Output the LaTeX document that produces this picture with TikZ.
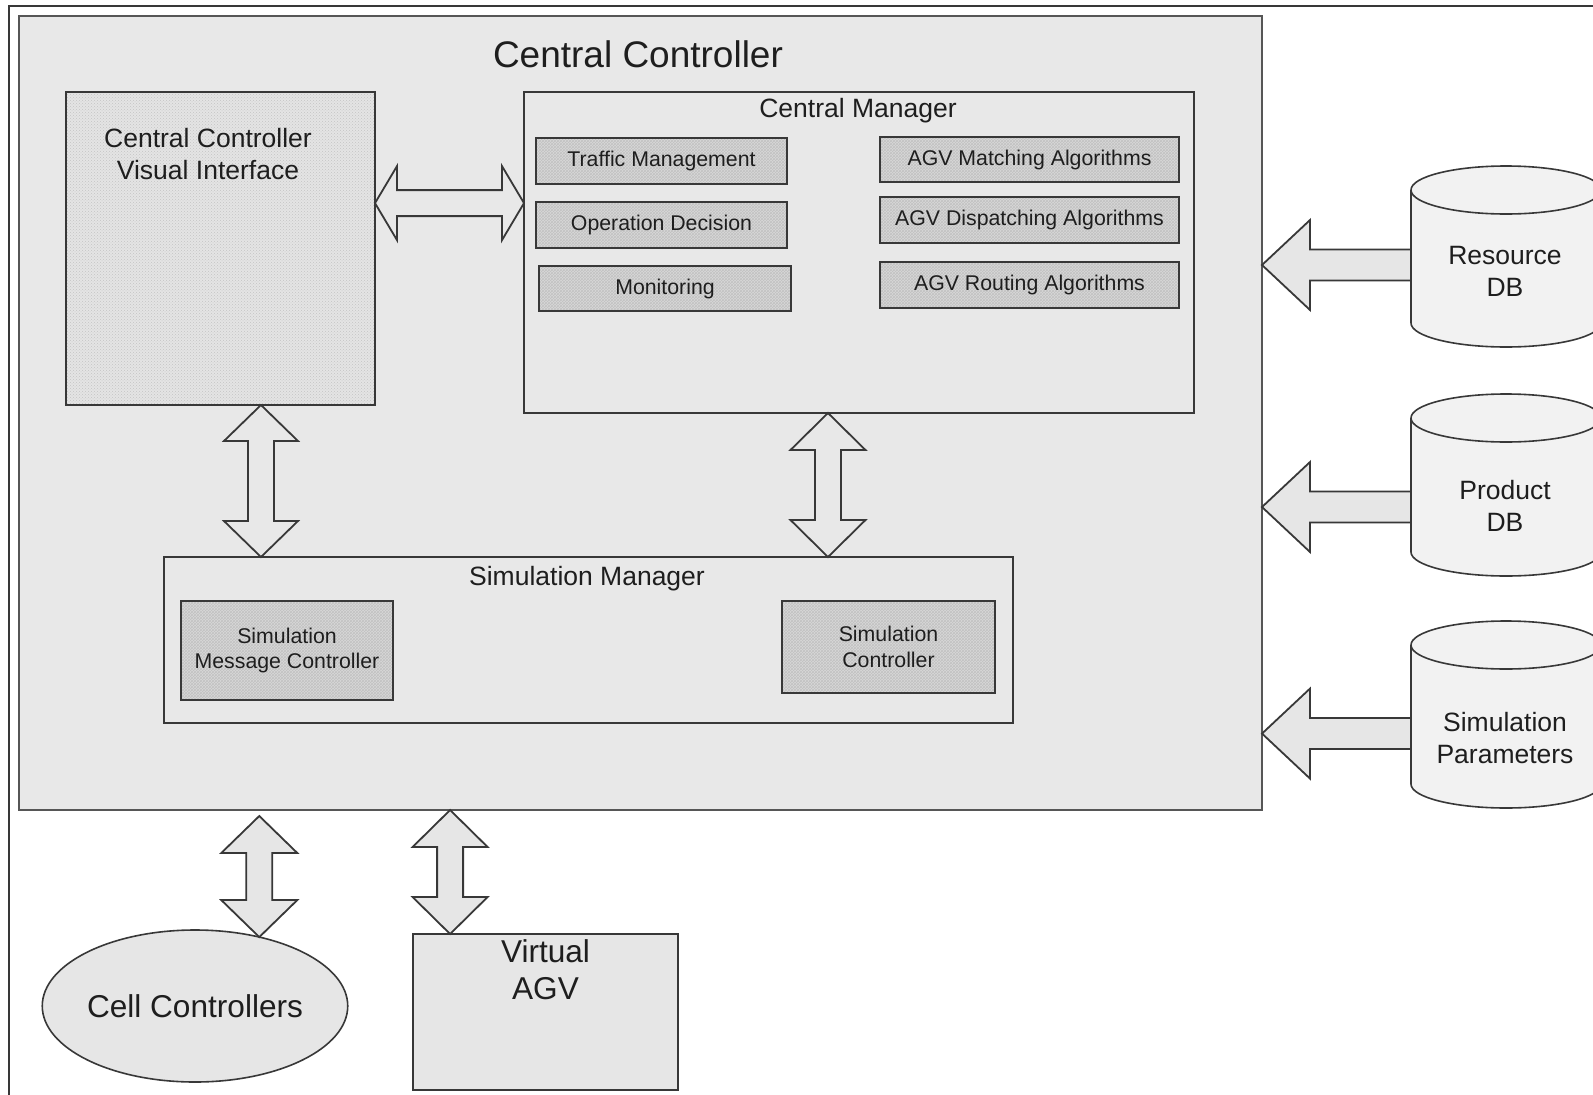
\documentclass[tikz,border=0pt]{standalone}
\usepackage{fontspec}
\setmainfont{Liberation Sans}
\usetikzlibrary{calc,patterns,shapes.geometric}

\definecolor{ccfill}{HTML}{E8E8E8}
\definecolor{linecol}{HTML}{383838}
\definecolor{txtcol}{HTML}{1E1E1E}
\definecolor{modfill}{HTML}{D8D8D8}
\definecolor{modhatch}{HTML}{C2C2C2}
\definecolor{visfill}{HTML}{E4E4E4}
\definecolor{visdots}{HTML}{C4C4C4}
\definecolor{outfill}{HTML}{E6E6E6}
\definecolor{dbfill}{HTML}{F2F2F2}

\newcommand\dgTitleFont{\fontsize{37}{44}\selectfont}
\newcommand\dgLabelFont{\fontsize{26.5}{32}\selectfont}
\newcommand\dgModFont{\fontsize{21.3}{25.5}\selectfont}
\newcommand\dgBigFont{\fontsize{31.6}{37}\selectfont}

\tikzset{
  every node/.style={inner sep=0pt, outer sep=0pt, text=txtcol},
  framed/.style={rectangle, anchor=north west},
  ccbox/.style={framed, draw=linecol!85, line width=2.6pt, fill=ccfill},
  visbox/.style={framed, draw=linecol, line width=2pt, preaction={fill=visfill},
                 pattern=crosshatch dots, pattern color=visdots},
  mgrbox/.style={framed, draw=linecol, line width=2pt},
  modbox/.style={framed, draw=linecol, line width=2pt, preaction={fill=modfill},
                 pattern=crosshatch, pattern color=modhatch, font=\dgModFont, align=center},
  extbox/.style={framed, draw=linecol, line width=1.6pt, fill=outfill},
  dbarea/.style={framed, draw=none},
  titletext/.style={font=\dgTitleFont, anchor=base},
  labeltext/.style={font=\dgLabelFont, align=center},
  bigtext/.style={font=\dgBigFont, align=center},
  blockarrow/.style={draw=linecol, line width=1.8pt, line join=miter},
  inarrow/.style={blockarrow, fill=ccfill},
  outarrow/.style={blockarrow, fill=outfill},
  cylbody/.style={fill=dbfill, draw=linecol, line width=1.6pt},
  cylline/.style={draw=linecol, line width=1.6pt},
}

% block double arrow: [style]{end A}{end B}{head length}{head half width}{shaft half width}
\newcommand\dblarrow[6][]{%
  \coordinate (da-a) at ($(#2)!#4!(#3)$);
  \coordinate (da-b) at ($(#3)!#4!(#2)$);
  \draw[#1] (#2) -- ($(da-a)!#5!90:(#3)$) -- ($(da-a)!#6!90:(#3)$)
    -- ($(da-b)!#6!-90:(#2)$) -- ($(da-b)!#5!-90:(#2)$) -- (#3)
    -- ($(da-b)!#5!90:(#2)$) -- ($(da-b)!#6!90:(#2)$)
    -- ($(da-a)!#6!-90:(#3)$) -- ($(da-a)!#5!-90:(#3)$) -- cycle;
}
% block single arrow: [style]{tip}{tail}{head length}{head half width}{shaft half width}
\newcommand\sglarrow[6][]{%
  \coordinate (sa-h) at ($(#2)!#4!(#3)$);
  \draw[#1] (#2) -- ($(sa-h)!#5!90:(#3)$) -- ($(sa-h)!#6!90:(#3)$)
    -- ($(#3)!#6!-90:(#2)$) -- ($(#3)!#6!90:(#2)$)
    -- ($(sa-h)!#6!-90:(#3)$) -- ($(sa-h)!#5!-90:(#3)$) -- cycle;
}
% database cylinder drawn over the area of a node
\newcommand\drawcyl[1]{%
  \path[cylbody] ($(#1.north west)+(0,24)$) -- ($(#1.south west)+(0,-24)$)
    arc[start angle=180, end angle=0, x radius=95, y radius=24]
    -- ($(#1.north east)+(0,24)$)
    arc[start angle=0, end angle=-180, x radius=95, y radius=24] -- cycle;
  \draw[cylline] ($(#1.north west)+(0,24)$)
    arc[start angle=180, end angle=0, x radius=95, y radius=24];
}

\begin{document}
\begin{tikzpicture}[x=1pt, y=-1pt]
\useasboundingbox (0,0) rectangle (1593,1095);
\clip (0,0) rectangle (1593,1095);
\fill[white] (0,0) rectangle (1593,1095);
\draw[draw=linecol, line width=1.4pt] (9,6) rectangle (1620,1120);

% central controller
\node[ccbox, minimum width=1243, minimum height=794] (cc) at (19,16) {};
\node[titletext] (cctitle) at (638,67.5) {Central Controller};

% visual interface
\node[visbox, minimum width=309, minimum height=313] (ccvi) at (66,92) {};
\node[labeltext] (ccvitxt) at (208,154) {Central Controller\\Visual Interface};

% central manager
\node[mgrbox, minimum width=670, minimum height=321] (cm) at (524,92) {};
\node[font=\dgLabelFont, anchor=base] (cmtitle) at (858,117) {Central Manager};
\node[modbox, minimum width=251, minimum height=46] (traffic) at (536,138) {Traffic Management};
\node[modbox, minimum width=251, minimum height=46] (opdec) at (536,202) {Operation Decision};
\node[modbox, minimum width=252, minimum height=45] (monit) at (539,266) {Monitoring};
\node[modbox, minimum width=299, minimum height=45] (match) at (880,137) {AGV Matching Algorithms};
\node[modbox, minimum width=299, minimum height=46] (disp) at (880,197) {AGV Dispatching Algorithms};
\node[modbox, minimum width=299, minimum height=46] (rout) at (880,262) {AGV Routing Algorithms};

% simulation manager
\node[mgrbox, minimum width=849, minimum height=166] (sim) at (164,557) {};
\node[font=\dgLabelFont, anchor=base] (simtitle) at (587,585) {Simulation Manager};
\node[modbox, minimum width=212, minimum height=99] (smc) at (181,601) {Simulation\\Message Controller};
\node[modbox, minimum width=213, minimum height=92] (simctl) at (782,601) {Simulation\\Controller};

% external parts
\node[ellipse, draw=linecol, line width=1.6pt, fill=outfill, minimum width=304,
      minimum height=152, font=\dgBigFont] (cell) at (195,1006) {Cell Controllers};
\node[extbox, minimum width=265, minimum height=156] (vagv) at (413,934) {};
\node[bigtext] (vagvtxt) at (545.5,970) {Virtual\\AGV};

\node[dbarea, minimum width=190, minimum height=181] (resdb) at (1411,166) {};
\node[dbarea, minimum width=190, minimum height=182] (proddb) at (1411,394) {};
\node[dbarea, minimum width=190, minimum height=187] (pardb) at (1411,621) {};

% connectors inside the central controller
\coordinate (hA) at ($(ccvi.north east)!0.355!(ccvi.south east)$);
\coordinate (hB) at (hA -| cm.west);
\dblarrow[inarrow]{hA}{hB}{22pt}{37pt}{13pt}

\coordinate (vA) at ($(ccvi.south west)!0.631!(ccvi.south east)$);
\coordinate (vB) at (vA |- sim.north);
\dblarrow[inarrow]{vA}{vB}{36pt}{37pt}{13pt}

\coordinate (wA) at ($(cm.south west)!0.4537!(cm.south east)$);
\coordinate (wB) at (wA |- sim.north);
\dblarrow[inarrow]{wA}{wB}{37pt}{37.5pt}{13pt}

% connectors below the central controller
\coordinate (cB) at (cell.47);
\coordinate (cA) at ($(cB |- cc.south)+(0,6)$);
\dblarrow[outarrow]{cA}{cB}{37pt}{38pt}{13pt}

\coordinate (gB) at ($(vagv.north west)!0.14!(vagv.north east)$);
\coordinate (gA) at (gB |- cc.south);
\dblarrow[outarrow]{gA}{gB}{37pt}{37.5pt}{13pt}

% data sources
\coordinate (rT) at ($(resdb.north west)!0.547!(resdb.south west)$);
\coordinate (rH) at (rT -| cc.east);
\sglarrow[outarrow]{rH}{rT}{48pt}{45pt}{15.5pt}
\coordinate (pT) at ($(proddb.north west)!0.621!(proddb.south west)$);
\coordinate (pH) at (pT -| cc.east);
\sglarrow[outarrow]{pH}{pT}{48pt}{45pt}{15.5pt}
\coordinate (sT) at ($(pardb.north west)!0.602!(pardb.south west)$);
\coordinate (sH) at (sT -| cc.east);
\sglarrow[outarrow]{sH}{sT}{48pt}{45pt}{15.5pt}

\drawcyl{resdb}
\drawcyl{proddb}
\drawcyl{pardb}
\node[labeltext] (restxt) at (1505,271) {Resource\\DB};
\node[labeltext] (prodtxt) at (1505,506) {Product\\DB};
\node[labeltext] (partxt) at (1505,738) {Simulation\\Parameters};
\end{tikzpicture}
\end{document}
